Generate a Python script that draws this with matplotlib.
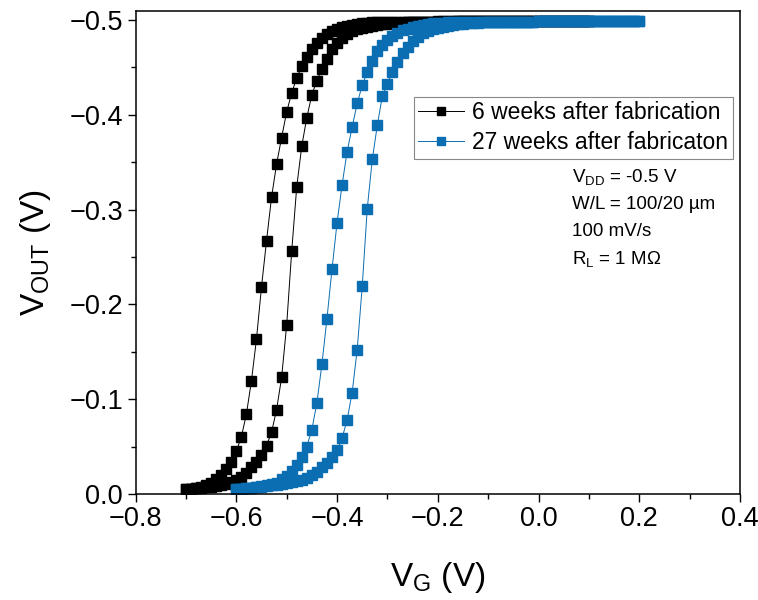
import numpy as np
import matplotlib
matplotlib.use("Agg")
import matplotlib.pyplot as plt
from matplotlib.ticker import MultipleLocator

plt.rcParams['font.family'] = ['Liberation Sans', 'DejaVu Sans']
plt.rcParams['mathtext.fontset'] = 'custom'
plt.rcParams['mathtext.rm'] = 'Liberation Sans'
plt.rcParams['mathtext.it'] = 'Liberation Sans'

# gate voltage sweeps (V), step 0.01 V
vg_6w = np.round(np.arange(-0.70, 0.105, 0.01), 2)
vg_27w = np.round(np.arange(-0.60, 0.205, 0.01), 2)

# 6 weeks after fabrication: left and right branch of the hysteresis loop
vout_6w_left = [
    -0.005, -0.0056, -0.0066, -0.0077, -0.0095, -0.012, -0.0155, -0.020, -0.026, -0.034,
    -0.045, -0.060, -0.084, -0.119, -0.163, -0.218, -0.267, -0.313, -0.348, -0.376,
    -0.403, -0.423, -0.439, -0.451, -0.461, -0.469, -0.476, -0.481, -0.485, -0.488,
    -0.491, -0.493, -0.494, -0.495, -0.496, -0.497, -0.497, -0.498, -0.498, -0.498,
    -0.498, -0.498, -0.498, -0.498, -0.498, -0.498, -0.498, -0.498, -0.498, -0.498,
    -0.499, -0.499, -0.499, -0.499, -0.499, -0.499, -0.499, -0.499, -0.499, -0.499,
    -0.499, -0.499, -0.499, -0.499, -0.499, -0.499, -0.499, -0.499, -0.499, -0.499,
    -0.499, -0.499, -0.499, -0.499, -0.499, -0.499, -0.499, -0.499, -0.499, -0.499,
    -0.499,
]
vout_6w_right = [
    -0.005, -0.0055, -0.006, -0.0065, -0.007, -0.0078, -0.0086, -0.0096, -0.011, -0.013,
    -0.015, -0.018, -0.0225, -0.028, -0.034, -0.041, -0.051, -0.065, -0.089, -0.123,
    -0.178, -0.256, -0.324, -0.367, -0.397, -0.421, -0.436, -0.448, -0.459, -0.469,
    -0.476, -0.481, -0.485, -0.488, -0.490, -0.492, -0.493, -0.494, -0.495, -0.496,
    -0.496, -0.497, -0.497, -0.497, -0.498, -0.498, -0.498, -0.498, -0.498, -0.498,
    -0.498, -0.498, -0.498, -0.498, -0.499, -0.499, -0.499, -0.499, -0.499, -0.499,
    -0.499, -0.499, -0.499, -0.499, -0.499, -0.499, -0.499, -0.499, -0.499, -0.499,
    -0.499, -0.499, -0.499, -0.499, -0.499, -0.499, -0.499, -0.499, -0.499, -0.499,
    -0.499,
]

# 27 weeks after fabrication
vout_27w_left = [
    -0.005, -0.0055, -0.006, -0.0065, -0.007, -0.008, -0.009, -0.0105, -0.012, -0.0155,
    -0.019, -0.024, -0.031, -0.039, -0.050, -0.068, -0.096, -0.137, -0.185, -0.237,
    -0.286, -0.326, -0.361, -0.387, -0.412, -0.431, -0.445, -0.457, -0.467, -0.474,
    -0.479, -0.483, -0.486, -0.489, -0.491, -0.493, -0.494, -0.495, -0.496, -0.497,
    -0.497, -0.497, -0.498, -0.498, -0.498, -0.498, -0.498, -0.498, -0.498, -0.498,
    -0.498, -0.498, -0.498, -0.498, -0.498, -0.498, -0.498, -0.498, -0.498, -0.498,
    -0.499, -0.499, -0.499, -0.499, -0.499, -0.499, -0.499, -0.499, -0.499, -0.499,
    -0.499, -0.499, -0.499, -0.499, -0.499, -0.499, -0.499, -0.499, -0.499, -0.499,
    -0.499,
]
vout_27w_right = [
    -0.005, -0.0055, -0.006, -0.0065, -0.007, -0.0075, -0.008, -0.009, -0.010, -0.011,
    -0.012, -0.013, -0.0138, -0.015, -0.017, -0.020, -0.0235, -0.028, -0.033, -0.039,
    -0.046, -0.059, -0.078, -0.107, -0.152, -0.219, -0.301, -0.353, -0.389, -0.420,
    -0.433, -0.445, -0.456, -0.465, -0.472, -0.478, -0.482, -0.486, -0.488, -0.490,
    -0.492, -0.493, -0.494, -0.495, -0.496, -0.496, -0.497, -0.497, -0.497, -0.498,
    -0.498, -0.498, -0.498, -0.498, -0.498, -0.498, -0.498, -0.498, -0.498, -0.498,
    -0.499, -0.499, -0.499, -0.499, -0.499, -0.499, -0.499, -0.499, -0.499, -0.499,
    -0.499, -0.499, -0.499, -0.499, -0.499, -0.499, -0.499, -0.499, -0.499, -0.499,
    -0.499,
]

labels = ["6 weeks after fabrication", "27 weeks after fabricaton"]
colors = ["black", "#0b6db2"]

fig = plt.figure(figsize=(7.58, 6.0), dpi=100)
ax = fig.add_axes([0.1788, 0.1767, 0.7975, 0.805])

# forward sweep then backward sweep
for vg, left, right, lab, col in [
    (vg_6w, vout_6w_left, vout_6w_right, labels[0], colors[0]),
    (vg_27w, vout_27w_left, vout_27w_right, labels[1], colors[1]),
]:
    x = np.concatenate([vg, vg[::-1]])
    y = np.concatenate([right, left[::-1]])
    ax.plot(x, y, color=col, lw=0.7, marker='s', ms=6.8, mec=col, mfc=col,
            label=lab)

ax.set_xlim(-0.8, 0.4)
ax.set_ylim(0.0, -0.5095)
ax.xaxis.set_major_locator(MultipleLocator(0.2))
ax.xaxis.set_minor_locator(MultipleLocator(0.1))
ax.yaxis.set_major_locator(MultipleLocator(0.1))
ax.yaxis.set_minor_locator(MultipleLocator(0.05))
ax.tick_params(which='major', direction='out', length=6, width=1.0, labelsize=19.5,
               top=False, right=False, pad=3)
ax.tick_params(which='minor', direction='out', length=3.5, width=1.0,
               top=False, right=False)
for s in ax.spines.values():
    s.set_linewidth(1.1)

ax.set_xlabel("V$_{\\mathrm{G}}$ (V)", fontsize=24, labelpad=20)
ax.set_ylabel("V$_{\\mathrm{OUT}}$ (V)", fontsize=24, labelpad=12)

leg = ax.legend(loc='upper right', bbox_to_anchor=(0.988, 0.8226), fontsize=16.5,
                frameon=True, fancybox=False, edgecolor='#888888', framealpha=1,
                handlelength=2.0, handletextpad=0.35, borderpad=0.2,
                labelspacing=0.3, borderaxespad=0.0, markerscale=0.75)
leg.get_frame().set_linewidth(0.8)

notes = ["V$_{\\mathrm{DD}}$ = -0.5 V", "W/L = 100/20 µm", "100 mV/s",
         "R$_{\\mathrm{L}}$ = 1 MΩ"]
for i, t in enumerate(notes):
    ax.text(0.7225, 0.656 - i * 0.0565, t, transform=ax.transAxes, fontsize=13.5,
            va='center', ha='left')

fig.savefig("out.png", dpi=100)
